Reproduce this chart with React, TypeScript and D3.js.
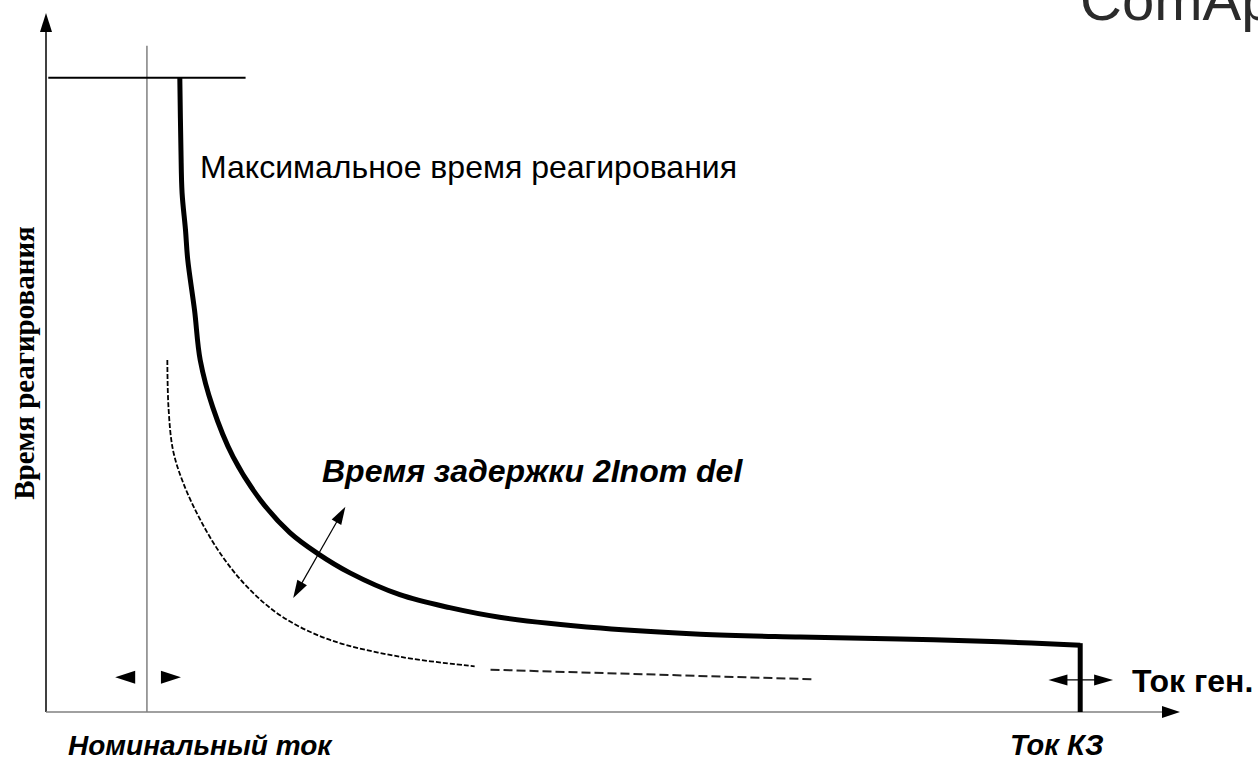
import React from "react";
import * as d3 from "d3";

// Characteristic: relative current (x) vs reaction time (y), arbitrary units 0..10
const mainCurrent = [1.18, 1.19, 1.2, 1.23, 1.25, 1.31, 1.36, 1.47, 1.65, 1.89, 2.15, 2.39, 2.68, 3.12, 3.56, 4.0, 4.89, 5.77, 6.65, 7.53, 8.41, 9.12];
const mainTime = [9.3, 8.24, 7.61, 7.07, 6.63, 5.89, 5.16, 4.47, 3.74, 3.11, 2.63, 2.33, 2.04, 1.72, 1.53, 1.39, 1.23, 1.14, 1.1, 1.07, 1.03, 0.98];

const delayCurrent = [1.07, 1.08, 1.12, 1.21, 1.36, 1.56, 1.8, 2.09, 2.5, 3.12, 3.78];
const delayTime = [5.16, 4.47, 3.84, 3.36, 2.82, 2.27, 1.79, 1.39, 1.06, 0.81, 0.67];

const tailCurrent = [3.92, 6.76];
const tailTime = [0.62, 0.48];

const nominalCurrent = 0.89;
const shortCircuitCurrent = 9.12;
const maxTime = 9.3;
const maxTimeLineEnd = 1.76;
const nominalLineTop = 9.77;

const delayArrowCurrent = [2.18, 2.64];
const delayArrowTime = [1.67, 3.01];

const nomArrowTime = 0.51;
const nomArrowTips = [0.61, 1.19];
const scArrowTime = 0.47;
const scArrowTips = [8.84, 9.41];

const labels = {
  maxTime: "Максимальное время реагирования",
  delay: "Время задержки 2Inom del",
  xAxis: "Ток ген.",
  yAxis: "Время реагирования",
  nominal: "Номинальный ток",
  sc: "Ток КЗ",
  logo: "ComAp",
};

const W = 1258;
const H = 762;

const x = d3.scaleLinear().domain([0, 10]).range([46, 1180]);
const y = d3.scaleLinear().domain([0, 10]).range([712, 30]);

function arrowHead(tipX: number, tipY: number, angle: number, len: number, half: number) {
  const bx = tipX - len * Math.cos(angle);
  const by = tipY - len * Math.sin(angle);
  const px = -Math.sin(angle) * half;
  const py = Math.cos(angle) * half;
  return `M${tipX},${tipY}L${bx + px},${by + py}L${bx - px},${by - py}Z`;
}

export default function App() {
  const lineGen = d3
    .line<[number, number]>()
    .x((d) => x(d[0]))
    .y((d) => y(d[1]))
    .curve(d3.curveCatmullRom.alpha(0.5));

  const mainPts = mainCurrent.map((c, i) => [c, mainTime[i]] as [number, number]);
  const delayPts = delayCurrent.map((c, i) => [c, delayTime[i]] as [number, number]);
  const tailPts = tailCurrent.map((c, i) => [c, tailTime[i]] as [number, number]);

  const x0 = x(0);
  const y0 = y(0);

  const ax1 = x(delayArrowCurrent[0]);
  const ay1 = y(delayArrowTime[0]);
  const ax2 = x(delayArrowCurrent[1]);
  const ay2 = y(delayArrowTime[1]);
  const ang = Math.atan2(ay2 - ay1, ax2 - ax1);

  const sans = "'Liberation Sans', Arial, sans-serif";

  return (
    <div style={{ position: "absolute", left: 0, top: 0, width: W, height: H, background: "#fff" }}>
      <svg width={W} height={H} style={{ display: "block" }}>
        {/* logo (cut off at top edge, as in the reference) */}
        <text x={1080} y={20} fontFamily={sans} fontSize={58} fill="#2b2b2b">
          {labels.logo}
        </text>

        {/* y axis */}
        <line x1={x0} x2={x0} y1={y0} y2={y(10) + 2} stroke="#000" strokeWidth={1.5} />
        <path d={arrowHead(x0, 13, -Math.PI / 2, 19, 6)} fill="#000" />

        {/* x axis */}
        <line x1={x0} x2={x(10) - 17} y1={y0} y2={y0} stroke="#808080" strokeWidth={1.5} />
        <path d={arrowHead(x(10), y0, 0, 18, 6)} fill="#000" />

        {/* nominal current vertical line */}
        <line x1={x(nominalCurrent)} x2={x(nominalCurrent)} y1={y(nominalLineTop)} y2={y0} stroke="#808080" strokeWidth={1.5} />

        {/* max time horizontal line */}
        <line x1={x(0.02)} x2={x(maxTimeLineEnd)} y1={y(maxTime)} y2={y(maxTime)} stroke="#000" strokeWidth={2} />

        {/* main characteristic */}
        <path d={lineGen(mainPts) || ""} fill="none" stroke="#000" strokeWidth={5} />
        <line
          x1={x(shortCircuitCurrent)}
          x2={x(shortCircuitCurrent)}
          y1={y(mainTime[mainTime.length - 1]) - 2}
          y2={y0}
          stroke="#000"
          strokeWidth={5}
        />

        {/* delay dashed curve */}
        <path d={lineGen(delayPts) || ""} fill="none" stroke="#000" strokeWidth={1.8} strokeDasharray="5 2" />
        <path d={lineGen(tailPts) || ""} fill="none" stroke="#222" strokeWidth={2} strokeDasharray="9 4" />

        {/* delay double arrow */}
        <line
          x1={ax1 + 15 * Math.cos(ang)}
          y1={ay1 + 15 * Math.sin(ang)}
          x2={ax2 - 15 * Math.cos(ang)}
          y2={ay2 - 15 * Math.sin(ang)}
          stroke="#000"
          strokeWidth={1.2}
        />
        <path d={arrowHead(ax2, ay2, ang, 18, 5.5)} fill="#000" />
        <path d={arrowHead(ax1, ay1, ang + Math.PI, 18, 5.5)} fill="#000" />

        {/* nominal arrows */}
        <path d={arrowHead(x(nomArrowTips[0]), y(nomArrowTime), Math.PI, 20, 6.5)} fill="#000" />
        <path d={arrowHead(x(nomArrowTips[1]), y(nomArrowTime), 0, 20, 6.5)} fill="#000" />

        {/* short-circuit arrows */}
        <line
          x1={x(scArrowTips[0]) + 15}
          x2={x(scArrowTips[1]) - 15}
          y1={y(scArrowTime)}
          y2={y(scArrowTime)}
          stroke="#000"
          strokeWidth={1.2}
        />
        <path d={arrowHead(x(scArrowTips[0]), y(scArrowTime), Math.PI, 19, 5.5)} fill="#000" />
        <path d={arrowHead(x(scArrowTips[1]), y(scArrowTime), 0, 19, 5.5)} fill="#000" />

        {/* texts */}
        <text x={200} y={178} fontFamily={sans} fontSize={32} fill="#000">
          {labels.maxTime}
        </text>
        <text x={322} y={482} fontFamily={sans} fontSize={32} fontWeight="bold" fontStyle="italic" fill="#000">
          {labels.delay}
        </text>
        <text x={1132} y={692} fontFamily={sans} fontSize={32} fontWeight="bold" fill="#000">
          {labels.xAxis}
        </text>
        <text x={68} y={755} fontFamily={sans} fontSize={28} fontWeight="bold" fontStyle="italic" fill="#000">
          {labels.nominal}
        </text>
        <text x={1010} y={755} fontFamily={sans} fontSize={29} fontWeight="bold" fontStyle="italic" fill="#000">
          {labels.sc}
        </text>
        <text
          transform={`translate(34, 363) rotate(-90)`}
          textAnchor="middle"
          fontFamily="'Liberation Serif', 'Times New Roman', serif"
          fontSize={29}
          fontWeight="bold"
          fill="#000"
        >
          {labels.yAxis}
        </text>
      </svg>
    </div>
  );
}
